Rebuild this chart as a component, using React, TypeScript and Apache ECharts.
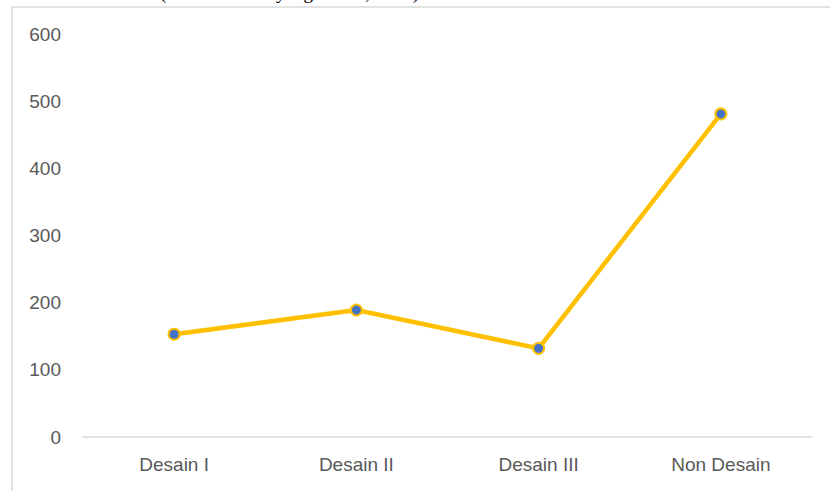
import React, { useEffect, useRef } from "react";
import * as echarts from "echarts";

const categories = ["Desain I", "Desain II", "Desain III", "Non Desain"];
const values = [153, 189, 132, 481];
const yTicks = [0, 100, 200, 300, 400, 500, 600];
const captionText = "(Sumber: Data yang diolah, 2021)";

export default function App() {
  const ref = useRef<HTMLDivElement>(null);
  useEffect(() => {
    document.body.style.margin = "0";
    const chart = echarts.init(ref.current!, null, { renderer: "svg" });
    chart.setOption({
      animation: false,
      backgroundColor: "#ffffff",
      grid: { left: 83, right: 18, top: 34, bottom: 54, containLabel: false },
      xAxis: {
        type: "category",
        data: categories,
        boundaryGap: true,
        axisLine: { lineStyle: { color: "#d9d9d9", width: 1.5 } },
        axisTick: { show: false },
        axisLabel: {
          color: "#595959",
          fontFamily: "Liberation Sans, Arial, sans-serif",
          fontSize: 19,
          margin: 18,
        },
      },
      yAxis: {
        type: "value",
        min: yTicks[0],
        max: yTicks[yTicks.length - 1],
        interval: 100,
        axisLine: { show: false },
        axisTick: { show: false },
        splitLine: { show: false },
        axisLabel: {
          color: "#595959",
          fontFamily: "Liberation Sans, Arial, sans-serif",
          fontSize: 19,
          margin: 22,
        },
      },
      series: [
        {
          type: "line",
          data: values,
          lineStyle: { color: "#FFC000", width: 4.5 },
          symbol: "circle",
          symbolSize: 11,
          itemStyle: { color: "#4472C4", borderColor: "#FFC000", borderWidth: 2 },
          z: 3,
        },
      ],
      graphic: [
        {
          type: "rect",
          shape: { x: 12, y: 7, width: 840, height: 500 },
          style: { fill: "none", stroke: "#d9d9d9", lineWidth: 1.5 },
          silent: true,
        },
        {
          type: "text",
          x: 160,
          y: 2,
          style: {
            text: captionText,
            font: "19px 'Liberation Serif', 'Times New Roman', serif",
            fill: "#000000",
            textVerticalAlign: "bottom",
          },
        },
      ],
    });
    return () => chart.dispose();
  }, []);
  return (
    <div
      ref={ref}
      style={{ position: "absolute", left: 0, top: 0, width: 830, height: 491 }}
    />
  );
}
